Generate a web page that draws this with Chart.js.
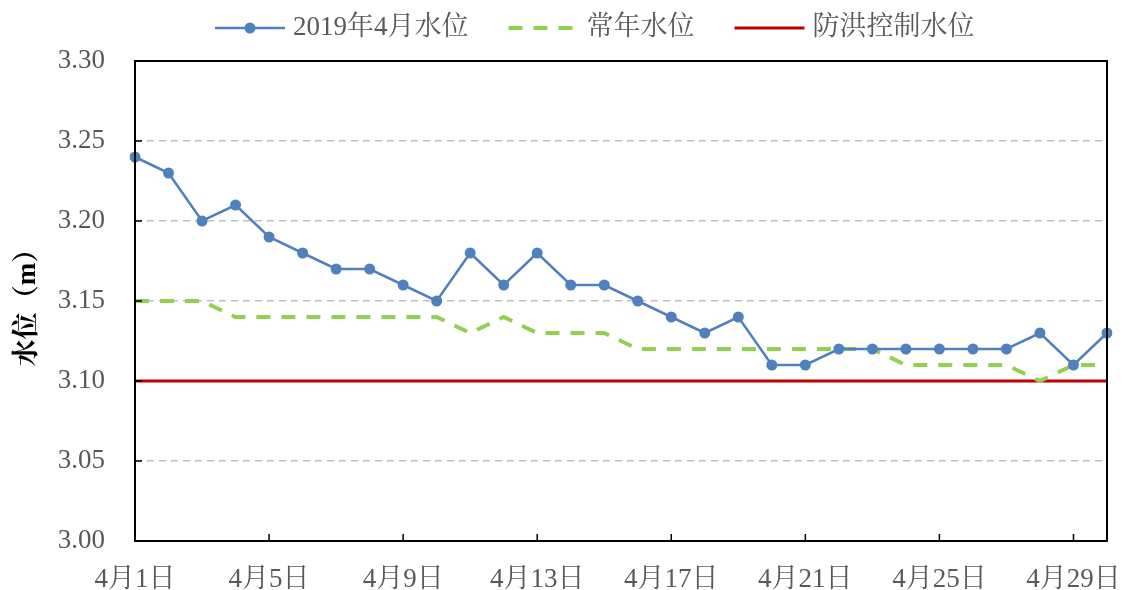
<!DOCTYPE html>
<html>
<head>
<meta charset="utf-8">
<script src="https://cdn.jsdelivr.net/npm/chart.js@4"></script>
<style>
    body { margin: 0; background: #fff; }
    #wrap { width: 1123px; height: 590px; }
</style>
</head>
<body>
<div id="wrap"><canvas id="levelChart" width="1123" height="590"></canvas></div>
<script>
// =====================
// DATA
// =====================
let days = [];
for (let d = 1; d <= 30; d++) days.push("4月" + d + "日");

let aprilLevel = [3.24, 3.23, 3.20, 3.21, 3.19, 3.18, 3.17, 3.17, 3.16, 3.15,
                  3.18, 3.16, 3.18, 3.16, 3.16, 3.15, 3.14, 3.13, 3.14, 3.11,
                  3.11, 3.12, 3.12, 3.12, 3.12, 3.12, 3.12, 3.13, 3.11, 3.13];
let normalLevel = [3.15, 3.15, 3.15, 3.14, 3.14, 3.14, 3.14, 3.14, 3.14, 3.14,
                   3.13, 3.14, 3.13, 3.13, 3.13, 3.12, 3.12, 3.12, 3.12, 3.12,
                   3.12, 3.12, 3.12, 3.11, 3.11, 3.11, 3.11, 3.10, 3.11, 3.11];
let floodLevel = [3.10, 3.10, 3.10, 3.10, 3.10, 3.10, 3.10, 3.10, 3.10, 3.10,
                  3.10, 3.10, 3.10, 3.10, 3.10, 3.10, 3.10, 3.10, 3.10, 3.10,
                  3.10, 3.10, 3.10, 3.10, 3.10, 3.10, 3.10, 3.10, 3.10, 3.10];

let seriesNames = ["2019年4月水位", "常年水位", "防洪控制水位"];
let yMin = 3.00, yMax = 3.30, yStep = 0.05;

const FONT = "'Times New Roman', 'Liberation Serif', 'Noto Serif CJK SC', serif";

// =====================
// PLUGINS: frame, inward ticks, legend
// =====================
const framePlugin = {
    id: "frame",
    afterDatasetsDraw(chart) {
        let ctx = chart.ctx, a = chart.chartArea;
        let x = chart.scales.x, y = chart.scales.y;
        ctx.save();
        ctx.strokeStyle = "#000";
        ctx.lineWidth = 2;
        ctx.strokeRect(a.left, a.top, a.right - a.left, a.bottom - a.top);
        ctx.lineWidth = 1.5;
        ctx.beginPath();
        // x ticks (inside, every 4 days)
        for (let i = 4; i < days.length; i += 4) {
            let px = x.getPixelForValue(i);
            ctx.moveTo(px, a.bottom);
            ctx.lineTo(px, a.bottom - 7);
        }
        // y ticks
        for (let v = yMin + yStep; v < yMax - 0.001; v += yStep) {
            let py = y.getPixelForValue(v);
            ctx.moveTo(a.left, py);
            ctx.lineTo(a.left + 7, py);
        }
        ctx.stroke();
        ctx.restore();
    },
    afterDraw(chart) {
        let ctx = chart.ctx;
        ctx.save();
        ctx.font = "27px " + FONT;
        ctx.textBaseline = "middle";
        let x = 215, yc = 28;
        chart.data.datasets.forEach(ds => {
            ctx.strokeStyle = ds.borderColor;
            ctx.lineWidth = ds.borderWidth;
            ctx.setLineDash(ds.borderDash || []);
            ctx.beginPath();
            ctx.moveTo(x, yc);
            ctx.lineTo(x + 70, yc);
            ctx.stroke();
            ctx.setLineDash([]);
            if (ds.pointRadius > 0) {
                ctx.fillStyle = ds.borderColor;
                ctx.beginPath();
                ctx.arc(x + 35, yc, 5.5, 0, Math.PI * 2);
                ctx.fill();
            }
            ctx.fillStyle = "#595959";
            ctx.fillText(ds.label, x + 78, yc);
            x += 78 + ctx.measureText(ds.label).width + 40;
        });
        ctx.restore();
    }
};

// =====================
// CHART
// =====================
new Chart(document.getElementById("levelChart"), {
    type: "line",
    data: {
        labels: days,
        datasets: [
            {
                label: seriesNames[0],
                data: aprilLevel,
                borderColor: "#4F81BD",
                backgroundColor: "#4F81BD",
                borderWidth: 2.5,
                pointRadius: 5.5,
                pointBackgroundColor: "#4F81BD",
                pointBorderWidth: 0,
                tension: 0,
                order: 0
            },
            {
                label: seriesNames[1],
                data: normalLevel,
                borderColor: "#92D050",
                borderWidth: 4,
                borderDash: [14, 11],
                pointRadius: 0,
                tension: 0,
                order: 1
            },
            {
                label: seriesNames[2],
                data: floodLevel,
                borderColor: "#C00000",
                borderWidth: 3,
                pointRadius: 0,
                tension: 0,
                order: 2
            }
        ]
    },
    options: {
        responsive: false,
        animation: false,
        layout: { padding: { top: 61, right: 16, left: 0, bottom: 0 } },
        plugins: {
            legend: { display: false },
            tooltip: { enabled: false }
        },
        scales: {
            x: {
                offset: false,
                grid: { display: false, drawTicks: false },
                border: { display: false },
                afterFit: s => { s.height = 49; s.paddingLeft = 0; s.paddingRight = 0; },
                ticks: {
                    autoSkip: false,
                    maxRotation: 0,
                    padding: 23,
                    color: "#595959",
                    font: { family: FONT, size: 27 },
                    callback: (v, i) => (i % 4 === 0 ? days[i] : "")
                }
            },
            y: {
                min: yMin,
                max: yMax,
                afterFit: s => { s.width = 135; s.paddingTop = 0; s.paddingBottom = 0; },
                grid: {
                    drawTicks: false,
                    color: c => (c.tick.value <= yMin + 0.001 || c.tick.value >= yMax - 0.001) ? "rgba(0,0,0,0)" : "#BFBFBF",
                    lineWidth: 1.5
                },
                border: { display: false, dash: [7, 5] },
                ticks: {
                    stepSize: yStep,
                    padding: 30,
                    color: "#595959",
                    font: { family: FONT, size: 27 },
                    callback: v => v.toFixed(2)
                },
                title: {
                    display: true,
                    text: "水位（m）",
                    color: "#000",
                    font: { family: FONT, size: 27, weight: "bold" },
                    padding: { top: 12, bottom: 0 }
                }
            }
        }
    },
    plugins: [framePlugin]
});
</script>
</body>
</html>
